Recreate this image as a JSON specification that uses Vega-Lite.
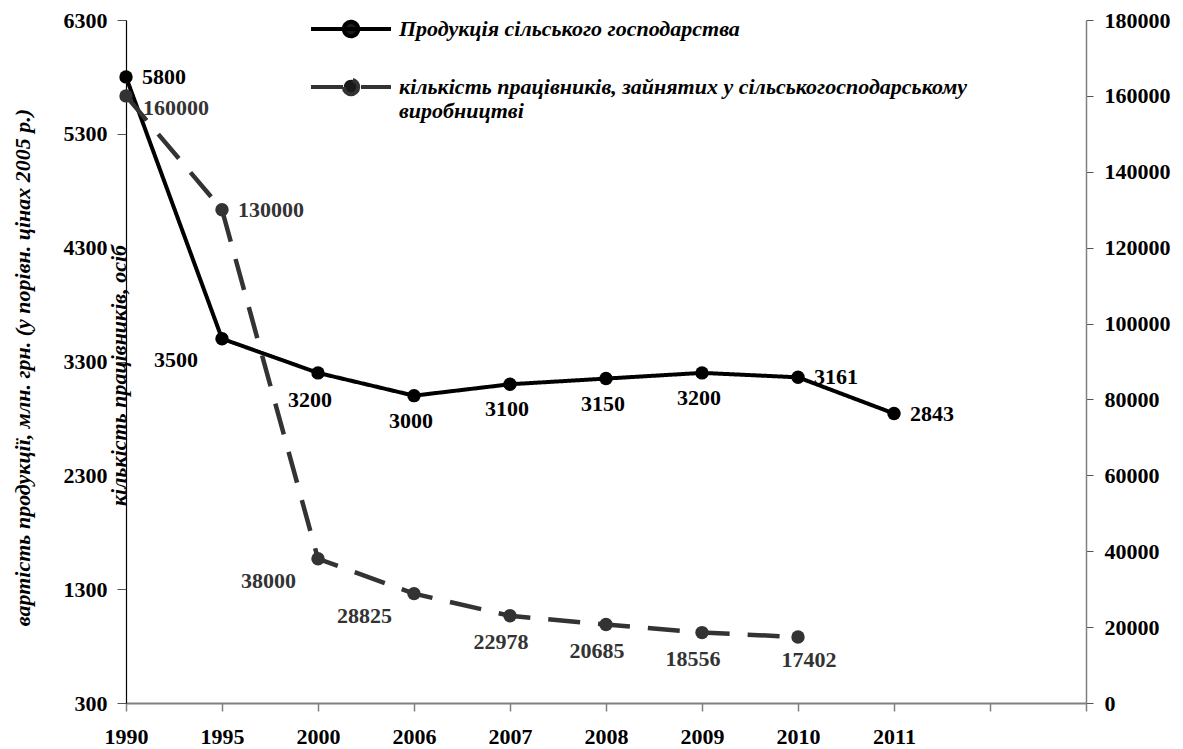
{
  "$schema": "https://vega.github.io/schema/vega-lite/v6.json",
  "width": 960,
  "height": 683,
  "autosize": {"type": "none"},
  "padding": {"left": 126, "top": 20, "right": 97, "bottom": 46},
  "background": "white",
  "config": {
    "view": {"stroke": null},
    "font": "Times New Roman, Liberation Serif, serif",
    "axis": {"labelFont": "Times New Roman, Liberation Serif, serif", "labelFontWeight": "bold", "labelFontSize": 22, "labelColor": "#000", "titleFont": "Times New Roman, Liberation Serif, serif", "titleFontStyle": "italic", "titleFontWeight": "bold", "titleFontSize": 22, "titleColor": "#000", "grid": false},
    "text": {"font": "Times New Roman, Liberation Serif, serif", "fontWeight": "bold", "fontSize": 22}
  },
  "data": {"values": [
    {"year": "1990", "production": 5800, "workers": 160000},
    {"year": "1995", "production": 3500, "workers": 130000},
    {"year": "2000", "production": 3200, "workers": 38000},
    {"year": "2006", "production": 3000, "workers": 28825},
    {"year": "2007", "production": 3100, "workers": 22978},
    {"year": "2008", "production": 3150, "workers": 20685},
    {"year": "2009", "production": 3200, "workers": 18556},
    {"year": "2010", "production": 3161, "workers": 17402},
    {"year": "2011", "production": 2843, "workers": null}
  ]},
  "encoding": {
    "x": {
      "field": "year", "type": "ordinal",
      "scale": {"type": "point", "padding": 0, "domain": ["1990", "1995", "2000", "2006", "2007", "2008", "2009", "2010", "2011", " ", "  "]},
      "axis": {"title": null, "labelAngle": 0, "domainColor": "#808080", "domainWidth": 2, "tickColor": "#808080", "tickWidth": 1.5, "tickSize": 8, "labelPadding": 15, "labelBaseline": "top"}
    }
  },
  "layer": [
    {
      "encoding": {
        "y": {
          "field": "production", "type": "quantitative",
          "scale": {"domain": [300, 6300], "nice": false, "zero": false},
          "axis": {
            "orient": "left",
            "values": [300, 1300, 2300, 3300, 4300, 5300, 6300],
            "format": "d",
            "title": "вартість продукції, млн. грн. (у порівн. цінах 2005 р.)",
            "titleAngle": -90, "titleX": -104, "titleY": 347, "titleAlign": "center", "titleBaseline": "middle",
            "domainColor": "#000", "domainWidth": 1.2, "tickColor": "#555", "tickSize": 9, "labelPadding": 10
          }
        }
      },
      "layer": [
        {
          "mark": {"type": "line", "strokeWidth": 4},
          "encoding": {
            "color": {"datum": "Продукція сільського господарства", "type": "nominal",
              "scale": {"domain": ["Продукція сільського господарства", "кількість працівників, зайнятих у сільськогосподарському виробництві"], "range": ["#000000", "#333333"]},
              "legend": {
                "orient": "none", "legendX": 183, "legendY": -33, "title": null, "direction": "vertical",
                "symbolType": "M-1,0H1M-0.18,0A0.18,0.18 0 1,0 0.18,0A0.18,0.18 0 1,0 -0.18,0Z",
                "symbolSize": 6400, "symbolStrokeWidth": 4, "symbolFillColor": "#1a1a1a",
                "labelFont": "Times New Roman, Liberation Serif, serif", "labelFontStyle": "italic", "labelFontWeight": "bold", "labelFontSize": 22, "labelColor": "#000",
                "labelLimit": 900, "labelOffset": 6, "rowPadding": 0,
                "labelExpr": "datum.label == 'Продукція сільського господарства' ? datum.label : ['кількість працівників, зайнятих у сільськогосподарському', 'виробництві']"
              }
            },
            "strokeDash": {"datum": "Продукція сільського господарства", "type": "nominal",
              "scale": {"domain": ["Продукція сільського господарства", "кількість працівників, зайнятих у сільськогосподарському виробництві"], "range": [[1, 0], [32, 18]]}
            }
          }
        },
        {
          "mark": {"type": "point", "filled": true, "size": 180, "opacity": 1, "color": "#000"}
        },
        {
          "transform": [{"filter": "datum.year == '1990' || datum.year == '2010' || datum.year == '2011'"}],
          "mark": {"type": "text", "align": "left", "baseline": "middle", "dx": 16, "color": "#000"},
          "encoding": {"text": {"field": "production", "type": "quantitative", "format": "d"}}
        },
        {
          "transform": [{"filter": "datum.year == '1995'"}],
          "mark": {"type": "text", "align": "right", "baseline": "middle", "dx": -24, "dy": 21, "color": "#000"},
          "encoding": {"text": {"field": "production", "type": "quantitative", "format": "d"}}
        },
        {
          "transform": [{"filter": "datum.year == '2000'"}],
          "mark": {"type": "text", "align": "center", "baseline": "middle", "dx": -8, "dy": 27, "color": "#000"},
          "encoding": {"text": {"field": "production", "type": "quantitative", "format": "d"}}
        },
        {
          "transform": [{"filter": "indexof(['2006','2007','2008','2009'], datum.year) >= 0"}],
          "mark": {"type": "text", "align": "center", "baseline": "middle", "dx": -3, "dy": 25, "color": "#000"},
          "encoding": {"text": {"field": "production", "type": "quantitative", "format": "d"}}
        }
      ]
    },
    {
      "transform": [{"filter": "isValid(datum.workers)"}],
      "encoding": {
        "y": {
          "field": "workers", "type": "quantitative",
          "scale": {"domain": [0, 180000], "nice": false, "zero": true},
          "axis": {
            "orient": "right",
            "values": [0, 20000, 40000, 60000, 80000, 100000, 120000, 140000, 160000, 180000],
            "format": "d",
            "title": "кількість працівників, осіб",
            "titleAngle": -90, "titleX": -968, "titleY": 355, "titleAlign": "center", "titleBaseline": "middle",
            "domainColor": "#808080", "domainWidth": 1.5, "tickColor": "#555", "tickSize": 7, "labelPadding": 11
          }
        }
      },
      "layer": [
        {
          "mark": {"type": "line", "strokeWidth": 4.5},
          "encoding": {
            "color": {"datum": "кількість працівників, зайнятих у сільськогосподарському виробництві", "type": "nominal"},
            "strokeDash": {"datum": "кількість працівників, зайнятих у сільськогосподарському виробництві", "type": "nominal"}
          }
        },
        {
          "mark": {"type": "point", "filled": true, "size": 180, "opacity": 1, "color": "#333333"}
        },
        {
          "transform": [{"filter": "datum.year == '1990'"}],
          "mark": {"type": "text", "align": "left", "baseline": "middle", "dx": 17, "dy": 12, "color": "#333333"},
          "encoding": {"text": {"field": "workers", "type": "quantitative", "format": "d"}}
        },
        {
          "transform": [{"filter": "datum.year == '1995'"}],
          "mark": {"type": "text", "align": "left", "baseline": "middle", "dx": 16, "color": "#333333"},
          "encoding": {"text": {"field": "workers", "type": "quantitative", "format": "d"}}
        },
        {
          "transform": [{"filter": "datum.year == '2000' || datum.year == '2006'"}],
          "mark": {"type": "text", "align": "right", "baseline": "middle", "dx": -22, "dy": 22, "color": "#333333"},
          "encoding": {"text": {"field": "workers", "type": "quantitative", "format": "d"}}
        },
        {
          "transform": [{"filter": "indexof(['2007','2008','2009'], datum.year) >= 0"}],
          "mark": {"type": "text", "align": "center", "baseline": "middle", "dx": -9, "dy": 26, "color": "#333333"},
          "encoding": {"text": {"field": "workers", "type": "quantitative", "format": "d"}}
        },
        {
          "transform": [{"filter": "datum.year == '2010'"}],
          "mark": {"type": "text", "align": "center", "baseline": "middle", "dx": 11, "dy": 23, "color": "#333333"},
          "encoding": {"text": {"field": "workers", "type": "quantitative", "format": "d"}}
        }
      ]
    }
  ],
  "resolve": {"scale": {"y": "independent"}, "axis": {"y": "independent"}}
}
